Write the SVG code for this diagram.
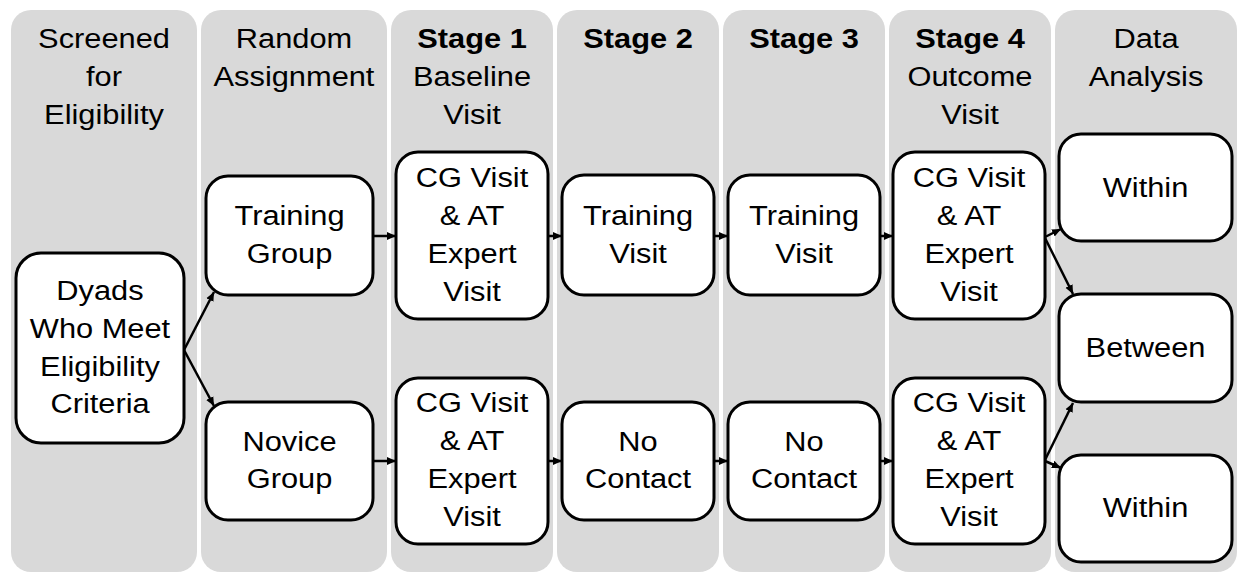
<svg xmlns="http://www.w3.org/2000/svg" width="1238" height="573" viewBox="0 0 1238 573">
  <style>
    .col { fill: #d9d9d9; }
    .box { fill: #ffffff; stroke: #000000; stroke-width: 3; }
    .lbl { font-family: "Liberation Sans", Arial, sans-serif; font-size: 28px; fill: #000000; text-anchor: middle; }
    .b { font-weight: bold; }
    .link { fill: none; stroke: #000000; stroke-width: 2.5; marker-end: url(#head); }
  </style>
  <defs>
    <marker id="head" markerUnits="userSpaceOnUse" markerWidth="10" markerHeight="10" viewBox="0 0 10 10" refX="9" refY="5" orient="auto">
      <path d="M0,1 L9,5 L0,9 Z" fill="#000000"/>
    </marker>
  </defs>
  <rect width="1238" height="573" fill="#ffffff"/>

  <!-- column bands with headings -->
  <g id="col-screened">
    <rect class="col" x="11" y="10" width="186" height="562" rx="20"/>
    <text class="lbl" transform="translate(104 0) scale(1.1 1)"><tspan x="0" y="48">Screened</tspan><tspan x="0" y="86">for</tspan><tspan x="0" y="124">Eligibility</tspan></text>
  </g>
  <g id="col-random">
    <rect class="col" x="201" y="10" width="186" height="562" rx="20"/>
    <text class="lbl" transform="translate(294 0) scale(1.1 1)"><tspan x="0" y="48">Random</tspan><tspan x="0" y="86">Assignment</tspan></text>
  </g>
  <g id="col-stage1">
    <rect class="col" x="391" y="10" width="162" height="562" rx="20"/>
    <text class="lbl" transform="translate(472 0) scale(1.1 1)"><tspan class="b" x="0" y="48">Stage 1</tspan><tspan x="0" y="86">Baseline</tspan><tspan x="0" y="124">Visit</tspan></text>
  </g>
  <g id="col-stage2">
    <rect class="col" x="557" y="10" width="162" height="562" rx="20"/>
    <text class="lbl b" transform="translate(638 0) scale(1.1 1)"><tspan x="0" y="48">Stage 2</tspan></text>
  </g>
  <g id="col-stage3">
    <rect class="col" x="723" y="10" width="162" height="562" rx="20"/>
    <text class="lbl b" transform="translate(804 0) scale(1.1 1)"><tspan x="0" y="48">Stage 3</tspan></text>
  </g>
  <g id="col-stage4">
    <rect class="col" x="889" y="10" width="162" height="562" rx="20"/>
    <text class="lbl" transform="translate(970 0) scale(1.1 1)"><tspan class="b" x="0" y="48">Stage 4</tspan><tspan x="0" y="86">Outcome</tspan><tspan x="0" y="124">Visit</tspan></text>
  </g>
  <g id="col-analysis">
    <rect class="col" x="1055" y="10" width="182" height="562" rx="20"/>
    <text class="lbl" transform="translate(1146 0) scale(1.1 1)"><tspan x="0" y="48">Data</tspan><tspan x="0" y="86">Analysis</tspan></text>
  </g>

  <!-- connectors -->
  <g id="connectors">
    <path class="link" d="M184,350 L214,292"/>
    <path class="link" d="M184,350 L214,406"/>
    <path class="link" d="M373,236 L396,236"/>
    <path class="link" d="M548,236 L562,236"/>
    <path class="link" d="M714,236 L728,236"/>
    <path class="link" d="M880,236 L893,236"/>
    <path class="link" d="M373,461 L396,461"/>
    <path class="link" d="M548,461 L562,461"/>
    <path class="link" d="M714,461 L728,461"/>
    <path class="link" d="M880,461 L893,461"/>
    <path class="link" d="M1045,237 L1061,229"/>
    <path class="link" d="M1045,238 L1073,294"/>
    <path class="link" d="M1045,460 L1073,403"/>
    <path class="link" d="M1045,461 L1061,468"/>
  </g>

  <!-- nodes -->
  <g id="dyads">
    <rect class="box" x="16" y="253" width="168" height="190" rx="25"/>
    <text class="lbl" transform="translate(100 0) scale(1.1 1)"><tspan x="0" y="300">Dyads</tspan><tspan x="0" y="338">Who Meet</tspan><tspan x="0" y="376">Eligibility</tspan><tspan x="0" y="413">Criteria</tspan></text>
  </g>
  <g id="training-group">
    <rect class="box" x="206" y="176" width="167" height="119" rx="22"/>
    <text class="lbl" transform="translate(289.5 0) scale(1.1 1)"><tspan x="0" y="225">Training</tspan><tspan x="0" y="263">Group</tspan></text>
  </g>
  <g id="novice-group">
    <rect class="box" x="206" y="402" width="167" height="118" rx="22"/>
    <text class="lbl" transform="translate(289.5 0) scale(1.1 1)"><tspan x="0" y="451">Novice</tspan><tspan x="0" y="488">Group</tspan></text>
  </g>
  <g id="baseline-training">
    <rect class="box" x="396" y="152" width="152" height="167" rx="22"/>
    <text class="lbl" transform="translate(472 0) scale(1.1 1)"><tspan x="0" y="187">CG Visit</tspan><tspan x="0" y="225">&amp; AT</tspan><tspan x="0" y="263">Expert</tspan><tspan x="0" y="301">Visit</tspan></text>
  </g>
  <g id="baseline-novice">
    <rect class="box" x="396" y="378" width="152" height="166" rx="22"/>
    <text class="lbl" transform="translate(472 0) scale(1.1 1)"><tspan x="0" y="412">CG Visit</tspan><tspan x="0" y="450">&amp; AT</tspan><tspan x="0" y="488">Expert</tspan><tspan x="0" y="526">Visit</tspan></text>
  </g>
  <g id="stage2-training">
    <rect class="box" x="562" y="175" width="152" height="120" rx="22"/>
    <text class="lbl" transform="translate(638 0) scale(1.1 1)"><tspan x="0" y="225">Training</tspan><tspan x="0" y="263">Visit</tspan></text>
  </g>
  <g id="stage2-novice">
    <rect class="box" x="562" y="402" width="152" height="118" rx="22"/>
    <text class="lbl" transform="translate(638 0) scale(1.1 1)"><tspan x="0" y="451">No</tspan><tspan x="0" y="488">Contact</tspan></text>
  </g>
  <g id="stage3-training">
    <rect class="box" x="728" y="175" width="152" height="120" rx="22"/>
    <text class="lbl" transform="translate(804 0) scale(1.1 1)"><tspan x="0" y="225">Training</tspan><tspan x="0" y="263">Visit</tspan></text>
  </g>
  <g id="stage3-novice">
    <rect class="box" x="728" y="402" width="152" height="118" rx="22"/>
    <text class="lbl" transform="translate(804 0) scale(1.1 1)"><tspan x="0" y="451">No</tspan><tspan x="0" y="488">Contact</tspan></text>
  </g>
  <g id="outcome-training">
    <rect class="box" x="893" y="152" width="152" height="167" rx="22"/>
    <text class="lbl" transform="translate(969 0) scale(1.1 1)"><tspan x="0" y="187">CG Visit</tspan><tspan x="0" y="225">&amp; AT</tspan><tspan x="0" y="263">Expert</tspan><tspan x="0" y="301">Visit</tspan></text>
  </g>
  <g id="outcome-novice">
    <rect class="box" x="893" y="378" width="152" height="166" rx="22"/>
    <text class="lbl" transform="translate(969 0) scale(1.1 1)"><tspan x="0" y="412">CG Visit</tspan><tspan x="0" y="450">&amp; AT</tspan><tspan x="0" y="488">Expert</tspan><tspan x="0" y="526">Visit</tspan></text>
  </g>
  <g id="within-training">
    <rect class="box" x="1059" y="134" width="173" height="107" rx="22"/>
    <text class="lbl" transform="translate(1145.5 0) scale(1.1 1)"><tspan x="0" y="197">Within</tspan></text>
  </g>
  <g id="between">
    <rect class="box" x="1059" y="294" width="173" height="108" rx="22"/>
    <text class="lbl" transform="translate(1145.5 0) scale(1.1 1)"><tspan x="0" y="357">Between</tspan></text>
  </g>
  <g id="within-novice">
    <rect class="box" x="1059" y="455" width="173" height="107" rx="22"/>
    <text class="lbl" transform="translate(1145.5 0) scale(1.1 1)"><tspan x="0" y="517">Within</tspan></text>
  </g>
</svg>
